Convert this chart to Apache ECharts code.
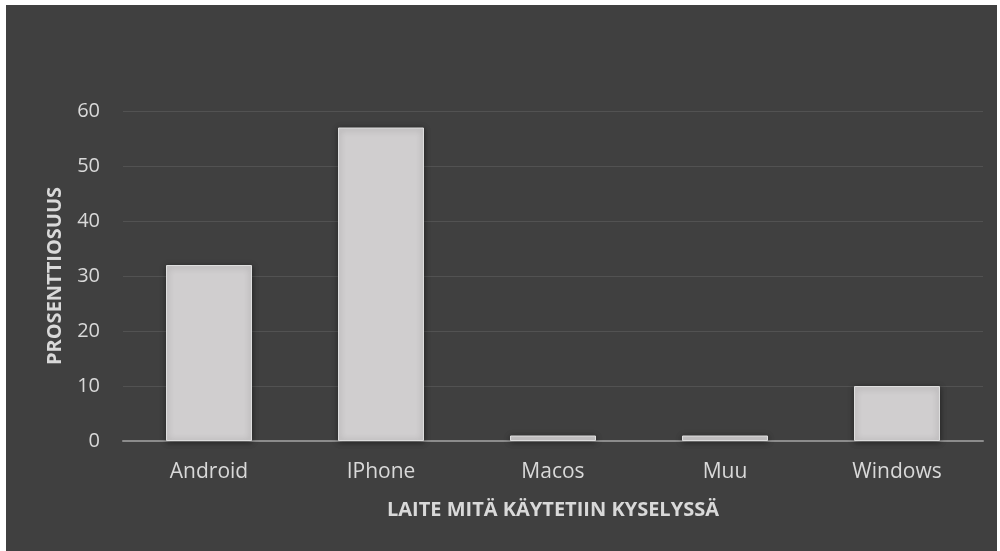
<!DOCTYPE html>
<html><head><meta charset="utf-8">
<script src="https://cdn.jsdelivr.net/npm/echarts@6/dist/echarts.min.js"></script>
<style>
html,body{margin:0;padding:0;background:#ffffff;}
#c{position:absolute;left:6px;top:5px;width:991px;height:546px;background:#404040;}
</style></head><body>
<div id="c"></div>
<script>
const categories = ["Android", "IPhone", "Macos", "Muu", "Windows"];
const values = [32, 57, 1, 1, 10];
const yTicks = [0, 10, 20, 30, 40, 50, 60];
const xAxisTitle = "LAITE MITÄ KÄYTETIIN KYSELYSSÄ";
const yAxisTitle = "PROSENTTIOSUUS";

const chart = echarts.init(document.getElementById('c'), null, {renderer: 'canvas'});
chart.setOption({
  backgroundColor: '#404040',
  animation: false,
  grid: {left: 117, right: 14, top: 106, bottom: 110},
  xAxis: {
    type: 'category',
    data: categories,
    name: xAxisTitle,
    nameLocation: 'middle',
    nameGap: 59,
    nameTextStyle: {color: '#d9d9d9', fontFamily: 'Open Sans', fontWeight: 'bold', fontSize: 20},
    axisLine: {lineStyle: {color: '#8c8c8c', width: 2}},
    axisTick: {show: false},
    axisLabel: {color: '#d9d9d9', fontFamily: 'Open Sans', fontSize: 21, margin: 21}
  },
  yAxis: {
    type: 'value',
    min: yTicks[0],
    max: yTicks[yTicks.length - 1],
    interval: 10,
    name: yAxisTitle,
    nameLocation: 'middle',
    nameGap: 58,
    nameRotate: 90,
    nameTextStyle: {color: '#d9d9d9', fontFamily: 'Open Sans', fontWeight: 'bold', fontSize: 20},
    axisLine: {show: false},
    axisTick: {show: false},
    axisLabel: {color: '#d9d9d9', fontFamily: 'Open Sans', fontSize: 20, margin: 23},
    splitLine: {lineStyle: {color: '#525252', width: 1}}
  },
  series: [{
    type: 'bar',
    data: values,
    barWidth: '50%',
    itemStyle: {
      color: '#d0cecf',
      borderColor: '#dedede',
      borderWidth: 1,
      shadowBlur: 6,
      shadowColor: 'rgba(0,0,0,0.45)',
      shadowOffsetX: 0,
      shadowOffsetY: 1
    }
  }]
});
</script>
</body></html>
